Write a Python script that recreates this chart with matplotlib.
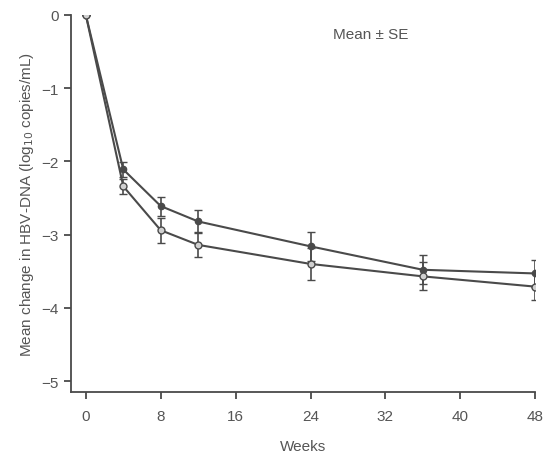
import matplotlib.pyplot as plt

# Mean change in HBV-DNA (log10 copies/mL)
weeks = [0, 4, 8, 12, 24, 36, 48]
upper_mean = [0, -2.11, -2.61, -2.82, -3.16, -3.48, -3.53]
upper_se = [0, 0.10, 0.13, 0.16, 0.20, 0.20, 0.19]
lower_mean = [0, -2.34, -2.94, -3.14, -3.40, -3.57, -3.71]
lower_se = [0, 0.10, 0.17, 0.17, 0.22, 0.19, 0.18]

x_ticks = [0, 8, 16, 24, 32, 40, 48]
y_ticks = [0, -1, -2, -3, -4, -5]

ink = '#4a4a4a'
plt.rcParams['font.family'] = ['Liberation Sans', 'DejaVu Sans']

fig = plt.figure(figsize=(5.45, 4.56), dpi=100)
ax = fig.add_axes([0.130, 0.138, 0.852, 0.827])

ax.errorbar(weeks, upper_mean, yerr=upper_se, color=ink, lw=1.5,
            marker='o', ms=4.5, mfc=ink, mec=ink, capsize=3, elinewidth=1.2)
ax.errorbar(weeks, lower_mean, yerr=lower_se, color=ink, lw=1.5,
            marker='o', ms=5, mfc='#d0d0d0', mec=ink, capsize=3, elinewidth=1.2)

ax.set_xlim(-1.6, 48)
ax.set_ylim(-5.15, 0)
ax.set_xticks(x_ticks)
ax.set_yticks(y_ticks)
ax.set_yticklabels(['0', '\u22121', '\u22122', '\u22123', '\u22124', '\u22125'])

for side in ['top', 'right']:
    ax.spines[side].set_visible(False)
for side in ['left', 'bottom']:
    ax.spines[side].set_color(ink)
    ax.spines[side].set_linewidth(1.3)
ax.tick_params(colors=ink, labelsize=11, length=5, width=1.3, direction='out')
ax.tick_params(axis='x', pad=7)
for lab in ax.get_xticklabels() + ax.get_yticklabels():
    lab.set_color('#555555')

ax.set_xlabel('Weeks', fontsize=11, color='#555555', labelpad=12)
ax.set_ylabel('Mean change in HBV-DNA (log$_{10}$ copies/mL)', fontsize=11,
              color='#555555', labelpad=4)
ax.text(0.645, 0.95, 'Mean \u00b1 SE', transform=ax.transAxes, fontsize=11,
        color='#555555', ha='center', va='center')

fig.savefig('out.png', dpi=100)
